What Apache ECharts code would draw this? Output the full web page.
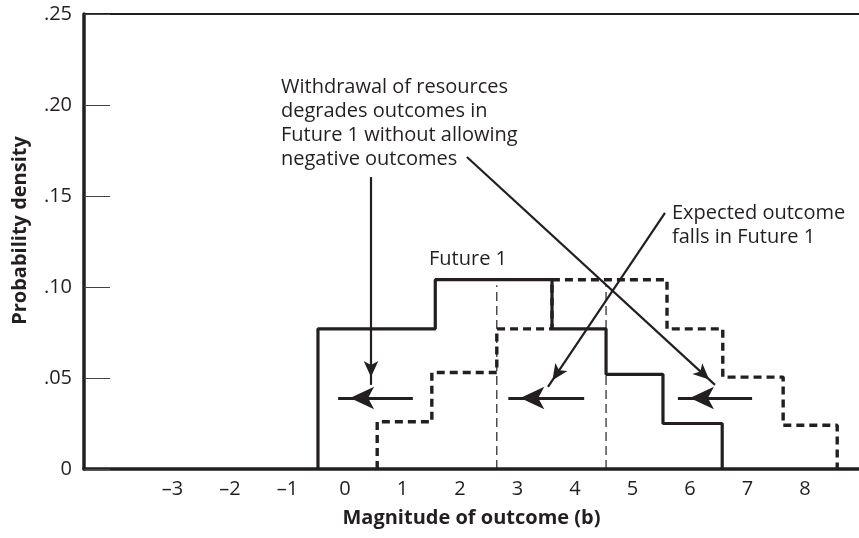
<!DOCTYPE html>
<html>
<head>
<meta charset="utf-8">
<title>Probability density of outcome magnitude</title>
<script src="https://cdn.jsdelivr.net/npm/echarts@6/dist/echarts.min.js"></script>
<style>
  html, body { margin: 0; padding: 0; background: #fff; }
  #chart { width: 859px; height: 538px; }
</style>
</head>
<body>
<div id="chart"></div>
<script>
// axis labels
const xTicks = [-3, -2, -1, 0, 1, 2, 3, 4, 5, 6, 7, 8];
const yMax = 0.25;
const yStep = 0.05;

// Future 1 (solid step line): bin edges and heights
const future1Edges = [-0.47, 1.57, 3.6, 4.54, 5.53, 6.56];
const future1Heights = [0.077, 0.104, 0.077, 0.052, 0.025];

// distribution before withdrawal (dashed step line)
const shiftedEdges = [0.56, 1.51, 2.64, 3.6, 5.6, 6.57, 7.62, 8.56];
const shiftedHeights = [0.026, 0.053, 0.077, 0.104, 0.077, 0.0505, 0.024];

// thin dashed markers
const markerX = [2.64, 4.54];
const markerTop = 0.101;

// big "shift left" arrows: tail x -> head x, all at one height
const shiftArrowY = 0.039;
const shiftTails = [1.18, 4.16, 7.08];
const shiftHeads = [-0.12, 2.84, 5.79];

// annotation pointers [from, to]
const pointerFrom = [[0.452, 0.1604], [2.12, 0.1714], [5.565, 0.1407]];
const pointerTo = [[0.452, 0.0462], [6.435, 0.0462], [3.53, 0.0451]];

const noteWithdraw = ['Withdrawal of resources', 'degrades outcomes in', 'Future 1 without allowing', 'negative outcomes'];
const noteExpected = ['Expected outcome', 'falls in Future 1'];
const noteFuture = 'Future 1';

const ink = '#231f20';
const fontFam = '"Open Sans", "Noto Sans", sans-serif';

// turn edges + heights into points for a step:'start' line
function stepPoints(edges, heights) {
  const pts = [[edges[0], 0]];
  for (let i = 0; i < heights.length; i++) {
    pts.push([edges[i + 1], heights[i]]);
  }
  pts.push([edges[edges.length - 1], 0]);
  return pts;
}

const arrowLines = [];
shiftTails.forEach((t, i) => {
  arrowLines.push([
    { coord: [t, shiftArrowY], symbol: 'none', lineStyle: { color: ink, width: 3.2, type: 'solid' } },
    { coord: [shiftHeads[i], shiftArrowY], symbol: 'arrow', symbolSize: [17, 24], symbolOffset: [0, 12] }
  ]);
});
pointerFrom.forEach((p, i) => {
  arrowLines.push([
    { coord: p, symbol: 'none', lineStyle: { color: ink, width: 2.2, type: 'solid' } },
    { coord: pointerTo[i], symbol: 'arrow', symbolSize: [11, 16], symbolOffset: [0, 8] }
  ]);
});

const series = [
  {
    name: 'Future 1',
    type: 'line',
    step: 'start',
    symbol: 'none',
    data: stepPoints(future1Edges, future1Heights),
    lineStyle: { color: ink, width: 3.2 },
    z: 4,
    markLine: {
      silent: true,
      animation: false,
      label: { show: false },
      emphasis: { disabled: true },
      data: arrowLines
    }
  },
  {
    name: 'Shifted',
    type: 'line',
    step: 'start',
    symbol: 'none',
    data: stepPoints(shiftedEdges, shiftedHeights),
    lineStyle: { color: ink, width: 3.4, type: [8, 5] },
    z: 3
  }
];
markerX.forEach(x => {
  series.push({
    type: 'line',
    symbol: 'none',
    data: [[x, 0], [x, markerTop]],
    lineStyle: { color: ink, width: 1.2, type: [9, 5] },
    z: 2
  });
});

const chart = echarts.init(document.getElementById('chart'));
chart.setOption({
  animation: false,
  backgroundColor: '#fff',
  grid: { left: 84, right: 0, top: 14, bottom: 69 },
  xAxis: [
    {
      type: 'value',
      min: -4.539,
      max: 8.939,
      name: 'Magnitude of outcome (b)',
      nameLocation: 'middle',
      nameGap: 39,
      nameTextStyle: { color: ink, fontSize: 20, fontWeight: 'bold', fontFamily: fontFam },
      axisLine: { show: true, onZero: false, lineStyle: { color: ink, width: 3.5 } },
      axisTick: { show: false },
      splitLine: { show: false },
      axisLabel: {
        customValues: xTicks,
        margin: 10,
        color: ink,
        fontSize: 20,
        fontFamily: fontFam,
        formatter: v => (v < 0 ? '\u2013' + Math.abs(v) : String(v))
      }
    },
    {
      type: 'value',
      position: 'top',
      min: -4.539,
      max: 8.939,
      axisLine: { show: true, onZero: false, lineStyle: { color: ink, width: 2 } },
      axisTick: { show: false },
      axisLabel: { show: false },
      splitLine: { show: false }
    }
  ],
  yAxis: {
    type: 'value',
    min: 0,
    max: yMax,
    interval: yStep,
    name: 'Probability density',
    nameLocation: 'middle',
    nameRotate: 90,
    nameGap: 54,
    nameTextStyle: { color: ink, fontSize: 20, fontWeight: 'bold', fontFamily: fontFam, padding: [0, 0, 0, 22] },
    axisLine: { show: true, onZero: false, lineStyle: { color: ink, width: 3.5 } },
    axisTick: { show: true, inside: true, length: 26, lineStyle: { color: '#444', width: 1 } },
    splitLine: { show: false },
    axisLabel: {
      margin: 12,
      color: ink,
      fontSize: 20,
      fontFamily: fontFam,
      formatter: v => (v === 0 ? '0' : v.toFixed(2).slice(1))
    }
  },
  graphic: [
    {
      type: 'text', x: 281, y: 75,
      style: { text: noteWithdraw.join('\n'), fill: ink, fontSize: 20, fontFamily: fontFam, lineHeight: 24, verticalAlign: 'top' }
    },
    {
      type: 'text', x: 672, y: 201,
      style: { text: noteExpected.join('\n'), fill: ink, fontSize: 20, fontFamily: fontFam, lineHeight: 24, verticalAlign: 'top' }
    },
    {
      type: 'text', x: 429, y: 247,
      style: { text: noteFuture, fill: ink, fontSize: 20, fontFamily: fontFam, lineHeight: 24, verticalAlign: 'top' }
    }
  ],
  series: series
});
window.onresize = function () {
  chart.resize();
};
</script>
</body>
</html>
